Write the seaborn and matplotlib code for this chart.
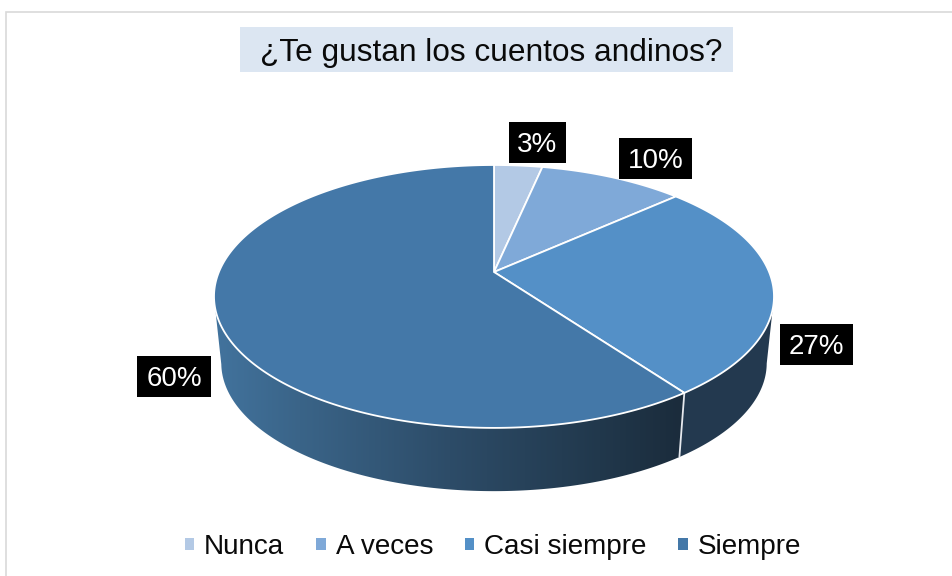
import numpy as np
import matplotlib
matplotlib.use("Agg")
import matplotlib.pyplot as plt
import seaborn as sns
from matplotlib.patches import Patch, Polygon, Rectangle
from matplotlib.path import Path
from matplotlib.transforms import Affine2D, Transform

# ---- data -------------------------------------------------------------
title = "¿Te gustan los cuentos andinos?"
categories = ["Nunca", "A veces", "Casi siempre", "Siempre"]
students = [1, 3, 8, 18]

# ---- style ------------------------------------------------------------
top_colors = ["#b3c9e5", "#7fa9d8", "#5490c7", "#4478a8"]
side_flat = "#23394f"
grad_x = [215, 300, 450, 600, 680]
grad_rgb = np.array([[0x42, 0x73, 0x9d], [0x3a, 0x64, 0x88], [0x2d, 0x4c, 0x68],
                     [0x21, 0x38, 0x4c], [0x1b, 0x2c, 0x3c]]) / 255
label_boxes = [(509, 122, 57, 41), (619, 138, 73, 41), (780, 324, 73, 41), (137, 356, 74, 41)]

sns.set_theme(style="white")
plt.rcParams["font.family"] = ["Liberation Sans", "DejaVu Sans"]
palette = sns.color_palette(top_colors)

TILT = 0.186


class Tilted(Transform):
    """Perspective view of the unit-circle pie, into pixel-sized data units."""
    input_dims = output_dims = 2
    is_separable = False
    has_inverse = False

    def __init__(self, cx=494.0, cy=272.0, rx=275.1, ry=126.9, p=TILT, k=1.0, dy=0.0):
        super().__init__()
        self.a = (cx, cy, rx, ry, p, k, dy)

    def transform_non_affine(self, values):
        cx, cy, rx, ry, p, k, dy = self.a
        v = np.asarray(values, float)
        w = 1 + p * v[:, 1]
        return np.column_stack([cx + k * rx * v[:, 0] / w, cy + dy - k * ry * v[:, 1] / w])

    def transform_path_non_affine(self, path):
        polys = path.transformed(Affine2D().scale(3000)).to_polygons(closed_only=True)
        return Path(self.transform_non_affine(np.vstack(polys) / 3000), closed=True)


fig = plt.figure(figsize=(9.53, 5.76), dpi=100, facecolor="white")
ax = fig.add_axes([0, 0, 1, 1])

wedges, _, autotexts = ax.pie(
    students, colors=palette, startangle=90, counterclock=False, autopct="%.0f%%",
    wedgeprops=dict(edgecolor="white", linewidth=1.3, zorder=3),
    textprops=dict(fontsize=20.0, color="white", zorder=6),
)
top = Tilted()
bottom = Tilted(k=0.974, dy=67.3)
for w in wedges:
    w.set_transform(top + ax.transData)
    w.set_clip_on(False)


def rim(tr, deg):
    t = np.radians(deg)
    return tr.transform_non_affine(np.column_stack([np.cos(t), np.sin(t)]))


def band(w):
    """Outline of the visible part of a slice's side wall (tangent to tangent)."""
    th = np.linspace(w.theta1, w.theta2, 400)
    th = th[np.sin(np.radians(th)) <= -TILT]
    return np.vstack([rim(top, th), rim(bottom, th[::-1])])


# side wall: a flat dark piece under "Casi siempre", a gradient under "Siempre"
ax.add_patch(Polygon(band(wedges[2]), closed=True, facecolor=side_flat, edgecolor="none", zorder=2))
xs = np.linspace(205, 700, 496)
grad = np.stack([np.interp(xs, grad_x, grad_rgb[:, c]) for c in range(3)], axis=-1)[None, :, :]
clip = Polygon(band(wedges[3]), closed=True, facecolor="none", edgecolor="none",
               transform=ax.transData)
ax.add_patch(clip)
img = ax.imshow(grad, extent=(205, 700, 500, 280), aspect="auto", zorder=2, interpolation="bilinear")
img.set_clip_path(clip)

ax.set_aspect("auto")
ax.set_xlim(0, 953)
ax.set_ylim(576, 0)
ax.axis("off")

# white seam on the wall where slices meet at the front
seam = wedges[2].theta1
pts = np.vstack([rim(top, [seam]), rim(bottom, [seam])])
ax.plot(pts[:, 0], pts[:, 1], color="#e6e9ee", lw=1.3, zorder=2.5, solid_capstyle="butt")

# data labels
for t, (x, y, bw, bh) in zip(autotexts, label_boxes):
    ax.add_patch(Rectangle((x, y), bw, bh, facecolor="black", edgecolor="none", zorder=5))
    t.set_position((x + bw / 2, y + bh / 2 + 2.5))
    t.set_ha("center")
    t.set_va("center")

# chart frame
ax.plot([953, 6.5, 6.5], [11.5, 11.5, 576], color="#d9d9d9", lw=1.2, zorder=1,
        solid_joinstyle="miter")

# title
ax.add_patch(Rectangle((240, 27), 493, 45, facecolor="#dce6f2", edgecolor="none", zorder=1))
ax.text(491, 53, title, fontsize=22.8, color="#0a0a0a", ha="center", va="center", zorder=2)

# legend
handles = [Patch(facecolor=c, edgecolor="none", label=n) for c, n in zip(palette, categories)]
ax.legend(handles=handles, loc="center", bbox_to_anchor=(493, 547),
          bbox_transform=ax.transData, ncol=4, frameon=False, fontsize=20.1,
          handlelength=0.33, handleheight=0.33, handletextpad=0.36, columnspacing=1.14,
          labelcolor="#0a0a0a", borderpad=0, borderaxespad=0)

fig.savefig("out.png", dpi=100, facecolor="white")
